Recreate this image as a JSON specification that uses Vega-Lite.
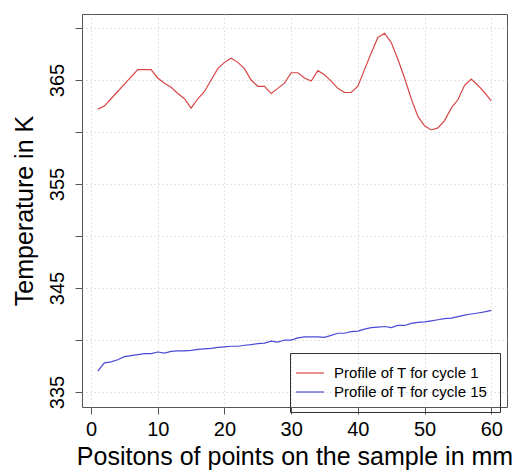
{
  "$schema": "https://vega.github.io/schema/vega-lite/v6.json",
  "width": 425,
  "height": 393,
  "autosize": {"type": "none"},
  "padding": {"left": 82, "top": 14, "right": 10, "bottom": 64},
  "config": {
    "font": "Liberation Sans",
    "view": {"stroke": "#555", "strokeWidth": 1},
    "axis": {
      "domain": false,
      "tickSize": 7,
      "tickColor": "#555",
      "labelColor": "#000",
      "titleColor": "#000",
      "labelFontSize": 20,
      "titleFontSize": 25,
      "titleFontWeight": "normal",
      "grid": true,
      "gridDash": [1, 3],
      "gridColor": "#c8c8c8",
      "labelFlush": false,
      "labelOverlap": false
    }
  },
  "data": {
    "values": [
      {"x": 1, "T": 362.2, "s": "Profile of T for cycle 1"},
      {"x": 2, "T": 362.5, "s": "Profile of T for cycle 1"},
      {"x": 3, "T": 363.2, "s": "Profile of T for cycle 1"},
      {"x": 4, "T": 363.9, "s": "Profile of T for cycle 1"},
      {"x": 5, "T": 364.6, "s": "Profile of T for cycle 1"},
      {"x": 6, "T": 365.3, "s": "Profile of T for cycle 1"},
      {"x": 7, "T": 366.0, "s": "Profile of T for cycle 1"},
      {"x": 8, "T": 366.0, "s": "Profile of T for cycle 1"},
      {"x": 9, "T": 366.0, "s": "Profile of T for cycle 1"},
      {"x": 10, "T": 365.2, "s": "Profile of T for cycle 1"},
      {"x": 11, "T": 364.7, "s": "Profile of T for cycle 1"},
      {"x": 12, "T": 364.3, "s": "Profile of T for cycle 1"},
      {"x": 13, "T": 363.7, "s": "Profile of T for cycle 1"},
      {"x": 14, "T": 363.2, "s": "Profile of T for cycle 1"},
      {"x": 15, "T": 362.3, "s": "Profile of T for cycle 1"},
      {"x": 16, "T": 363.2, "s": "Profile of T for cycle 1"},
      {"x": 17, "T": 363.9, "s": "Profile of T for cycle 1"},
      {"x": 18, "T": 365.0, "s": "Profile of T for cycle 1"},
      {"x": 19, "T": 366.1, "s": "Profile of T for cycle 1"},
      {"x": 20, "T": 366.7, "s": "Profile of T for cycle 1"},
      {"x": 21, "T": 367.1, "s": "Profile of T for cycle 1"},
      {"x": 22, "T": 366.7, "s": "Profile of T for cycle 1"},
      {"x": 23, "T": 366.1, "s": "Profile of T for cycle 1"},
      {"x": 24, "T": 365.0, "s": "Profile of T for cycle 1"},
      {"x": 25, "T": 364.4, "s": "Profile of T for cycle 1"},
      {"x": 26, "T": 364.4, "s": "Profile of T for cycle 1"},
      {"x": 27, "T": 363.7, "s": "Profile of T for cycle 1"},
      {"x": 28, "T": 364.2, "s": "Profile of T for cycle 1"},
      {"x": 29, "T": 364.7, "s": "Profile of T for cycle 1"},
      {"x": 30, "T": 365.7, "s": "Profile of T for cycle 1"},
      {"x": 31, "T": 365.7, "s": "Profile of T for cycle 1"},
      {"x": 32, "T": 365.2, "s": "Profile of T for cycle 1"},
      {"x": 33, "T": 364.9, "s": "Profile of T for cycle 1"},
      {"x": 34, "T": 365.9, "s": "Profile of T for cycle 1"},
      {"x": 35, "T": 365.5, "s": "Profile of T for cycle 1"},
      {"x": 36, "T": 364.9, "s": "Profile of T for cycle 1"},
      {"x": 37, "T": 364.2, "s": "Profile of T for cycle 1"},
      {"x": 38, "T": 363.8, "s": "Profile of T for cycle 1"},
      {"x": 39, "T": 363.8, "s": "Profile of T for cycle 1"},
      {"x": 40, "T": 364.4, "s": "Profile of T for cycle 1"},
      {"x": 41, "T": 366.0, "s": "Profile of T for cycle 1"},
      {"x": 42, "T": 367.6, "s": "Profile of T for cycle 1"},
      {"x": 43, "T": 369.1, "s": "Profile of T for cycle 1"},
      {"x": 44, "T": 369.5, "s": "Profile of T for cycle 1"},
      {"x": 45, "T": 368.6, "s": "Profile of T for cycle 1"},
      {"x": 46, "T": 367.0, "s": "Profile of T for cycle 1"},
      {"x": 47, "T": 365.2, "s": "Profile of T for cycle 1"},
      {"x": 48, "T": 363.2, "s": "Profile of T for cycle 1"},
      {"x": 49, "T": 361.5, "s": "Profile of T for cycle 1"},
      {"x": 50, "T": 360.6, "s": "Profile of T for cycle 1"},
      {"x": 51, "T": 360.2, "s": "Profile of T for cycle 1"},
      {"x": 52, "T": 360.4, "s": "Profile of T for cycle 1"},
      {"x": 53, "T": 361.1, "s": "Profile of T for cycle 1"},
      {"x": 54, "T": 362.3, "s": "Profile of T for cycle 1"},
      {"x": 55, "T": 363.1, "s": "Profile of T for cycle 1"},
      {"x": 56, "T": 364.5, "s": "Profile of T for cycle 1"},
      {"x": 57, "T": 365.1, "s": "Profile of T for cycle 1"},
      {"x": 58, "T": 364.5, "s": "Profile of T for cycle 1"},
      {"x": 59, "T": 363.8, "s": "Profile of T for cycle 1"},
      {"x": 60, "T": 363.0, "s": "Profile of T for cycle 1"},
      {"x": 1, "T": 337.0, "s": "Profile of T for cycle 15"},
      {"x": 2, "T": 337.8, "s": "Profile of T for cycle 15"},
      {"x": 3, "T": 337.9, "s": "Profile of T for cycle 15"},
      {"x": 4, "T": 338.1, "s": "Profile of T for cycle 15"},
      {"x": 5, "T": 338.4, "s": "Profile of T for cycle 15"},
      {"x": 6, "T": 338.5, "s": "Profile of T for cycle 15"},
      {"x": 7, "T": 338.6, "s": "Profile of T for cycle 15"},
      {"x": 8, "T": 338.7, "s": "Profile of T for cycle 15"},
      {"x": 9, "T": 338.7, "s": "Profile of T for cycle 15"},
      {"x": 10, "T": 338.85, "s": "Profile of T for cycle 15"},
      {"x": 11, "T": 338.75, "s": "Profile of T for cycle 15"},
      {"x": 12, "T": 338.9, "s": "Profile of T for cycle 15"},
      {"x": 13, "T": 338.95, "s": "Profile of T for cycle 15"},
      {"x": 14, "T": 338.95, "s": "Profile of T for cycle 15"},
      {"x": 15, "T": 339.0, "s": "Profile of T for cycle 15"},
      {"x": 16, "T": 339.1, "s": "Profile of T for cycle 15"},
      {"x": 17, "T": 339.15, "s": "Profile of T for cycle 15"},
      {"x": 18, "T": 339.2, "s": "Profile of T for cycle 15"},
      {"x": 19, "T": 339.3, "s": "Profile of T for cycle 15"},
      {"x": 20, "T": 339.35, "s": "Profile of T for cycle 15"},
      {"x": 21, "T": 339.4, "s": "Profile of T for cycle 15"},
      {"x": 22, "T": 339.4, "s": "Profile of T for cycle 15"},
      {"x": 23, "T": 339.5, "s": "Profile of T for cycle 15"},
      {"x": 24, "T": 339.55, "s": "Profile of T for cycle 15"},
      {"x": 25, "T": 339.65, "s": "Profile of T for cycle 15"},
      {"x": 26, "T": 339.7, "s": "Profile of T for cycle 15"},
      {"x": 27, "T": 339.9, "s": "Profile of T for cycle 15"},
      {"x": 28, "T": 339.8, "s": "Profile of T for cycle 15"},
      {"x": 29, "T": 340.0, "s": "Profile of T for cycle 15"},
      {"x": 30, "T": 340.0, "s": "Profile of T for cycle 15"},
      {"x": 31, "T": 340.2, "s": "Profile of T for cycle 15"},
      {"x": 32, "T": 340.3, "s": "Profile of T for cycle 15"},
      {"x": 33, "T": 340.3, "s": "Profile of T for cycle 15"},
      {"x": 34, "T": 340.3, "s": "Profile of T for cycle 15"},
      {"x": 35, "T": 340.25, "s": "Profile of T for cycle 15"},
      {"x": 36, "T": 340.45, "s": "Profile of T for cycle 15"},
      {"x": 37, "T": 340.65, "s": "Profile of T for cycle 15"},
      {"x": 38, "T": 340.65, "s": "Profile of T for cycle 15"},
      {"x": 39, "T": 340.8, "s": "Profile of T for cycle 15"},
      {"x": 40, "T": 340.85, "s": "Profile of T for cycle 15"},
      {"x": 41, "T": 341.05, "s": "Profile of T for cycle 15"},
      {"x": 42, "T": 341.2, "s": "Profile of T for cycle 15"},
      {"x": 43, "T": 341.25, "s": "Profile of T for cycle 15"},
      {"x": 44, "T": 341.3, "s": "Profile of T for cycle 15"},
      {"x": 45, "T": 341.2, "s": "Profile of T for cycle 15"},
      {"x": 46, "T": 341.4, "s": "Profile of T for cycle 15"},
      {"x": 47, "T": 341.4, "s": "Profile of T for cycle 15"},
      {"x": 48, "T": 341.6, "s": "Profile of T for cycle 15"},
      {"x": 49, "T": 341.7, "s": "Profile of T for cycle 15"},
      {"x": 50, "T": 341.75, "s": "Profile of T for cycle 15"},
      {"x": 51, "T": 341.85, "s": "Profile of T for cycle 15"},
      {"x": 52, "T": 341.95, "s": "Profile of T for cycle 15"},
      {"x": 53, "T": 342.05, "s": "Profile of T for cycle 15"},
      {"x": 54, "T": 342.1, "s": "Profile of T for cycle 15"},
      {"x": 55, "T": 342.25, "s": "Profile of T for cycle 15"},
      {"x": 56, "T": 342.4, "s": "Profile of T for cycle 15"},
      {"x": 57, "T": 342.5, "s": "Profile of T for cycle 15"},
      {"x": 58, "T": 342.6, "s": "Profile of T for cycle 15"},
      {"x": 59, "T": 342.7, "s": "Profile of T for cycle 15"},
      {"x": 60, "T": 342.85, "s": "Profile of T for cycle 15"}
    ]
  },
  "mark": {"type": "line", "strokeWidth": 1.2},
  "encoding": {
    "x": {
      "field": "x",
      "type": "quantitative",
      "scale": {"domain": [-1.36, 62.36], "nice": false, "zero": false},
      "axis": {
        "values": [0, 10, 20, 30, 40, 50, 60],
        "title": "Positons of points on the sample in mm",
        "labelPadding": 5,
        "titlePadding": 5
      }
    },
    "y": {
      "field": "T",
      "type": "quantitative",
      "scale": {"domain": [333.56, 371.35], "nice": false, "zero": false},
      "axis": {
        "values": [335, 340, 345, 350, 355, 360, 365, 370],
        "labelExpr": "datum.value % 10 == 5 ? datum.label : ''",
        "labelAngle": -90,
        "title": "Temperature in K",
        "labelPadding": 8,
        "titlePadding": 10
      }
    },
    "color": {
      "field": "s",
      "type": "nominal",
      "scale": {
        "domain": ["Profile of T for cycle 1", "Profile of T for cycle 15"],
        "range": ["#d94545", "#4a4ad6"]
      },
      "legend": {
        "orient": "none",
        "legendX": 208,
        "legendY": 339,
        "title": null,
        "symbolType": "M-2,0H2",
        "symbolSize": 196,
        "symbolStrokeWidth": 1.2,
        "labelFontSize": 15,
        "labelColor": "#000",
        "labelOffset": 16,
        "labelLimit": 300,
        "padding": 12,
        "strokeColor": "#333",
        "rowPadding": 3
      }
    }
  }
}
